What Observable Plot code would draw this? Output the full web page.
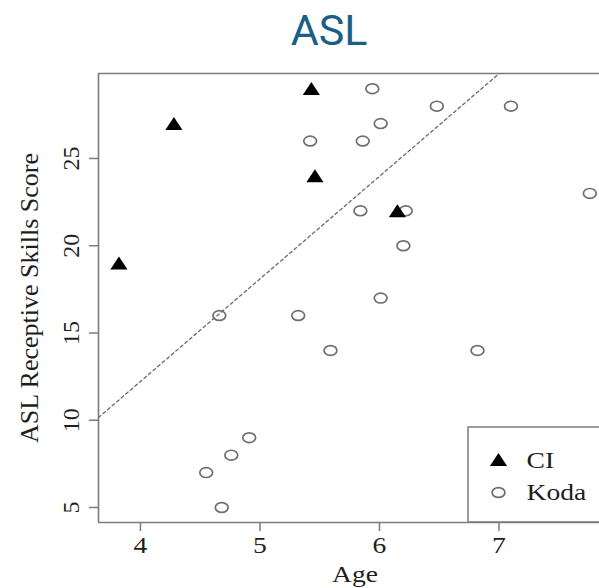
<!DOCTYPE html>
<html><head><meta charset="utf-8">
<script src="https://cdn.jsdelivr.net/npm/d3@7"></script>
<script src="https://cdn.jsdelivr.net/npm/@observablehq/plot@0.6"></script>
<style>
html,body{margin:0;padding:0;background:#fff;overflow:hidden;}
#wrap{position:relative;width:599px;height:588px;overflow:hidden;background:#fff;}
#title{width:658px;height:60px;line-height:60px;text-align:center;font-family:Roboto,"Noto Sans",sans-serif;font-size:43px;color:#1b5f85;white-space:nowrap;}
#chart svg{display:block;}
</style></head><body>
<div id="wrap"><div id="title">ASL</div><div id="chart"></div></div>
<script>
// CI group
const ageCI = [3.82, 4.28, 5.43, 5.46, 6.15];
const scoreCI = [19, 27, 29, 24, 22];
// Koda group
const ageKoda = [5.94, 6.48, 7.10, 6.01, 5.42, 5.86, 7.76, 5.84, 6.22, 6.20, 6.01, 4.66, 5.32, 5.59, 6.82, 4.91, 4.76, 4.55, 4.68];
const scoreKoda = [29, 28, 28, 27, 26, 26, 23, 22, 22, 20, 17, 16, 16, 14, 14, 9, 8, 7, 5];
// axis ticks & labels
const xTicks = [4, 5, 6, 7];
const yTicks = [5, 10, 15, 20, 25];
const legendLabels = ["CI", "Koda"];
const xLabel = "Age";
const yLabel = "ASL Receptive Skills Score";
// reference line (intercept, slope)
const fitIntercept = -11.3;
const fitSlope = 5.88;
const xDomain = [3.649, 7.841];
const yDomain = [4.14, 29.87];

const ci = ageCI.map((a, i) => ({age: a, score: scoreCI[i]}));
const koda = ageKoda.map((a, i) => ({age: a, score: scoreKoda[i]}));
const fitPts = xDomain.map(a => ({age: a, score: fitIntercept + fitSlope * a}));

const triSym = {draw(ctx) { ctx.moveTo(0, -6.6); ctx.lineTo(8.6, 6.4); ctx.lineTo(-8.6, 6.4); ctx.closePath(); }};
const ellipseSym = {draw(ctx) {
  const rx = 6.4, ry = 4.9, k = 0.5523;
  ctx.moveTo(rx, 0);
  ctx.bezierCurveTo(rx, ry * k, rx * k, ry, 0, ry);
  ctx.bezierCurveTo(-rx * k, ry, -rx, ry * k, -rx, 0);
  ctx.bezierCurveTo(-rx, -ry * k, -rx * k, -ry, 0, -ry);
  ctx.bezierCurveTo(rx * k, -ry, rx, -ry * k, rx, 0);
  ctx.closePath();
}};

const gray = "#7c7c7c";
const ink = "#1e1e1e";
const serif = "'Liberation Serif', 'Times New Roman', serif";

const plot = Plot.plot({
  width: 599, height: 528,
  marginLeft: 98, marginRight: 0, marginTop: 13, marginBottom: 66,
  style: {fontFamily: serif, background: "white", overflow: "visible"},
  x: {domain: xDomain}, y: {domain: yDomain},
  marks: [
    Plot.ruleX([xDomain[0]], {stroke: gray, strokeWidth: 1.6}),
    Plot.ruleY(yDomain, {stroke: gray, strokeWidth: 1.6}),
    Plot.axisX(xTicks, {tickSize: 9, tickPadding: 4, fontSize: 24, stroke: gray, strokeWidth: 1.5, fill: ink, label: null, tickFormat: d => String(d)}),
    Plot.axisY(yTicks, {tickSize: 9, stroke: gray, strokeWidth: 1.5, tickFormat: () => "", label: null}),
    Plot.text(yTicks, {y: d => d, text: d => String(d), frameAnchor: "left", dx: -27.5, rotate: -90, textAnchor: "middle", lineAnchor: "middle", fontSize: 24, fill: ink}),
    Plot.text([xLabel], {frameAnchor: "bottom", dx: 6, dy: 42, lineAnchor: "top", fontSize: 24, fill: ink}),
    Plot.text([yLabel], {frameAnchor: "left", dx: -69, rotate: -90, textAnchor: "middle", lineAnchor: "middle", fontSize: 26, fill: ink}),
    Plot.line(fitPts, {x: "age", y: "score", stroke: "#6a6a6a", strokeWidth: 1.3, strokeDasharray: "3,3", clip: true}),
    Plot.dot(koda, {x: "age", y: "score", symbol: ellipseSym, stroke: "#6e6e6e", strokeWidth: 1.7, fill: "none"}),
    Plot.dot(ci, {x: "age", y: "score", symbol: triSym, fill: "#000", stroke: "none"}),
    // legend
    Plot.dot([legendLabels[0]], {frameAnchor: "bottom-right", dx: -101, dy: -63, symbol: triSym, fill: "#000", stroke: "none"}),
    Plot.dot([legendLabels[1]], {frameAnchor: "bottom-right", dx: -101, dy: -30, symbol: ellipseSym, stroke: "#6e6e6e", strokeWidth: 1.7, fill: "none"}),
    Plot.text([legendLabels[0]], {frameAnchor: "bottom-right", dx: -73, dy: -62, textAnchor: "start", lineAnchor: "middle", fontSize: 24, fill: ink}),
    Plot.text([legendLabels[1]], {frameAnchor: "bottom-right", dx: -73, dy: -30, textAnchor: "start", lineAnchor: "middle", fontSize: 24, fill: ink})
  ]
});

// legend box
const svg = d3.select(plot);
svg.append("rect")
  .attr("x", 468).attr("y", 367).attr("width", 200).attr("height", 95)
  .attr("fill", "none").attr("stroke", gray).attr("stroke-width", 1.5);

// horizontal stretch of non-rotated text (reference is widened)
plot.querySelectorAll("text").forEach(t => {
  const tr = t.getAttribute("transform");
  if (!tr || /rotate/.test(tr)) return;
  t.setAttribute("transform", tr + " scale(1.15,1)");
});

document.getElementById("chart").appendChild(plot);
</script>
</body></html>
